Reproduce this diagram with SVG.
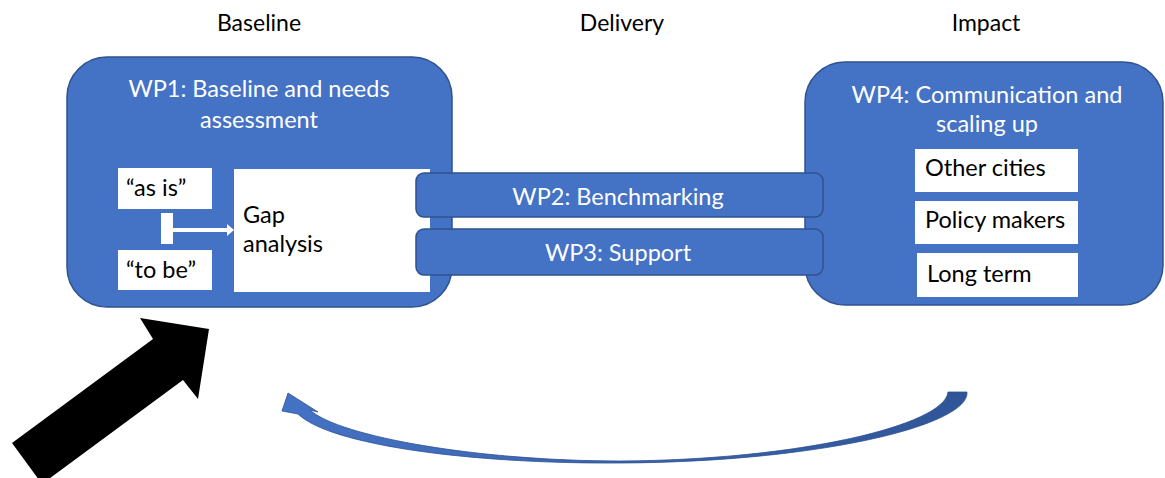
<svg xmlns="http://www.w3.org/2000/svg" width="1165" height="478" viewBox="0 0 1165 478">
  <defs>
    <style>
      .wp { fill: #4472C4; stroke: #2F528F; stroke-width: 1.5; }
      .card { fill: #FFFFFF; }
      .t { font-family: Lato, "Open Sans", "Liberation Sans", sans-serif; font-size: 23.5px; }
      .h { font-size: 23px; }
      .w { fill: #FFFFFF; }
      .k { fill: #000000; }
      .mid { text-anchor: middle; }
    </style>
    <linearGradient id="loopFill" x1="282" y1="0" x2="970" y2="0" gradientUnits="userSpaceOnUse">
      <stop offset="0" stop-color="#4472C4"/>
      <stop offset="0.5" stop-color="#3A64B0"/>
      <stop offset="1" stop-color="#2F5597"/>
    </linearGradient>
  </defs>
  <rect width="1165" height="478" fill="#FFFFFF"/>

  <!-- phase headings -->
  <g id="headings" class="t h k mid">
    <text x="259" y="31">Baseline</text>
    <text x="622" y="31">Delivery</text>
    <text x="986" y="31">Impact</text>
  </g>

  <!-- WP1 with its inner cards -->
  <g id="wp1">
    <rect class="wp" x="67" y="57" width="385" height="250" rx="40"/>
    <text class="t w mid" x="259" y="97">WP1: Baseline and needs</text>
    <text class="t w mid" x="259" y="128">assessment</text>
  </g>
  <g id="as-is">
    <rect class="card" x="118" y="168" width="94" height="41"/>
    <text class="t k" x="126" y="196">“as is”</text>
  </g>
  <g id="to-be">
    <rect class="card" x="118" y="250" width="94" height="40"/>
    <text class="t k" x="126" y="278">“to be”</text>
  </g>
  <g id="gap-analysis">
    <rect class="card" x="234" y="169" width="196" height="123"/>
    <text class="t k" x="243" y="223">Gap</text>
    <text class="t k" x="243" y="252">analysis</text>
  </g>

  <!-- WP4 with its audiences -->
  <g id="wp4">
    <rect class="wp" x="805" y="62" width="358" height="243" rx="40"/>
    <text class="t w mid" x="987" y="103">WP4: Communication and</text>
    <text class="t w mid" x="987" y="132">scaling up</text>
  </g>
  <g id="other-cities">
    <rect class="card" x="915" y="149" width="163" height="43"/>
    <text class="t k" x="925" y="176">Other cities</text>
  </g>
  <g id="policy-makers">
    <rect class="card" x="915" y="201" width="163" height="43"/>
    <text class="t k" x="925" y="228">Policy makers</text>
  </g>
  <g id="long-term">
    <rect class="card" x="917" y="253" width="161" height="44"/>
    <text class="t k" x="927" y="282">Long term</text>
  </g>

  <!-- delivery bars -->
  <g id="wp2">
    <rect class="wp" x="416" y="173" width="407" height="44" rx="8"/>
    <text class="t w mid" x="618" y="205">WP2: Benchmarking</text>
  </g>
  <g id="wp3">
    <rect class="wp" x="416" y="229" width="407" height="46" rx="8"/>
    <text class="t w mid" x="618" y="261">WP3: Support</text>
  </g>

  <!-- connectors -->
  <g id="connectors">
    <!-- as-is / to-be comparison feeding the gap analysis -->
    <rect x="161" y="213" width="12" height="31" fill="#FFFFFF"/>
    <rect x="173" y="228" width="55" height="4" fill="#FFFFFF"/>
    <polygon points="227,224 234,230 227,236" fill="#FFFFFF"/>

    <!-- external input into the baseline -->
    <polygon points="12,443 153,339 140,318 209,329 198,399 183,380 42,484" fill="#000000"/>

    <!-- feedback loop from impact back to baseline -->
    <path d="M 967,392 C 970,425 820,462 620,463 C 470,464 330,445 298,414 L 282,411 L 288,393 L 318,412 L 310,410 C 340,437 480,461 620,461 C 800,460 945,425 948,392 Z"
          fill="url(#loopFill)" stroke="#2F528F" stroke-width="0.8"/>
  </g>
</svg>
